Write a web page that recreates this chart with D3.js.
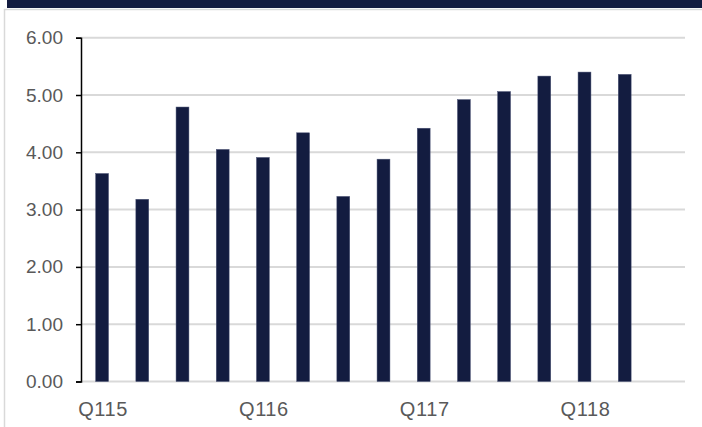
<!DOCTYPE html>
<html>
<head>
<meta charset="utf-8">
<script src="https://cdn.jsdelivr.net/npm/d3@7"></script>
<style>
  html, body { margin: 0; padding: 0; background: #ffffff; }
  svg { display: block; }
</style>
</head>
<body>
<div id="plot"></div>
<script>
// quarters (last slot is empty in the original)
var quarters = ['Q115', 'Q215', 'Q315', 'Q415', 'Q116', 'Q216', 'Q316', 'Q416',
                'Q117', 'Q217', 'Q317', 'Q417', 'Q118', 'Q218', 'Q318'];
var values = [3.63, 3.18, 4.79, 4.05, 3.91, 4.34, 3.23, 3.88,
              4.42, 4.92, 5.06, 5.33, 5.40, 5.36];
var shownLabels = ['Q115', 'Q116', 'Q117', 'Q118'];
var yTicks = [0, 1, 2, 3, 4, 5, 6];

var width = 702;
var height = 427;
var navy = '#131c40';

var canvas = d3.select('#plot')
    .append('svg')
    .attr('width', width)
    .attr('height', height);

// frame: header band + thin grey border
canvas.append('rect')
    .attr('x', 7).attr('y', 0)
    .attr('width', width - 7).attr('height', 8)
    .attr('fill', navy);
canvas.append('path')
    .attr('d', 'M4.5,' + height + 'V9.5H' + width)
    .attr('fill', 'none')
    .attr('stroke', '#d9d9d9')
    .attr('stroke-width', 1.5);

var data = values.map(function(v, i) { return { q: quarters[i], v: v }; });

var x = d3.scaleBand()
    .domain(quarters)
    .range([82, 685])
    .paddingInner(0.68)
    .paddingOuter(0.34);

var y = d3.scaleLinear()
    .domain([0, 6])
    .range([381.5, 37.7]);

// gridlines
canvas.selectAll('line.grid')
    .data(yTicks)
    .enter()
    .append('line')
    .attr('class', 'grid')
    .attr('x1', 81).attr('x2', 685)
    .attr('y1', function(d) { return y(d); })
    .attr('y2', function(d) { return y(d); })
    .attr('stroke', '#d9d9d9')
    .attr('stroke-width', 2);

// bars
canvas.selectAll('rect.bar')
    .data(data)
    .enter()
    .append('rect')
    .attr('class', 'bar')
    .attr('x', function(d) { return x(d.q); })
    .attr('width', x.bandwidth())
    .attr('y', function(d) { return y(d.v); })
    .attr('height', function(d) { return y(0) - y(d.v); })
    .attr('fill', navy)
    .attr('stroke', '#4a5274')
    .attr('stroke-width', 0.5);

// y axis
var yAxis = d3.axisLeft(y)
    .tickValues(yTicks)
    .tickFormat(d3.format('.2f'))
    .tickSize(5)
    .tickPadding(13);

var yg = canvas.append('g')
    .attr('transform', 'translate(81,0)')
    .call(yAxis);
yg.selectAll('path, line')
    .attr('stroke', '#000000')
    .attr('stroke-width', 1.5);
yg.selectAll('text')
    .attr('fill', '#595959')
    .attr('font-family', 'Liberation Sans, Arial, sans-serif')
    .attr('font-size', 19);

// x labels
canvas.selectAll('text.xlab')
    .data(shownLabels)
    .enter()
    .append('text')
    .attr('class', 'xlab')
    .attr('x', function(d) { return x(d) + x.bandwidth() / 2 + 1; })
    .attr('y', 415.5)
    .attr('text-anchor', 'middle')
    .attr('fill', '#595959')
    .attr('font-family', 'Liberation Sans, Arial, sans-serif')
    .attr('font-size', 20)
    .attr('letter-spacing', 0.6)
    .text(function(d) { return d; });
</script>
</body>
</html>
